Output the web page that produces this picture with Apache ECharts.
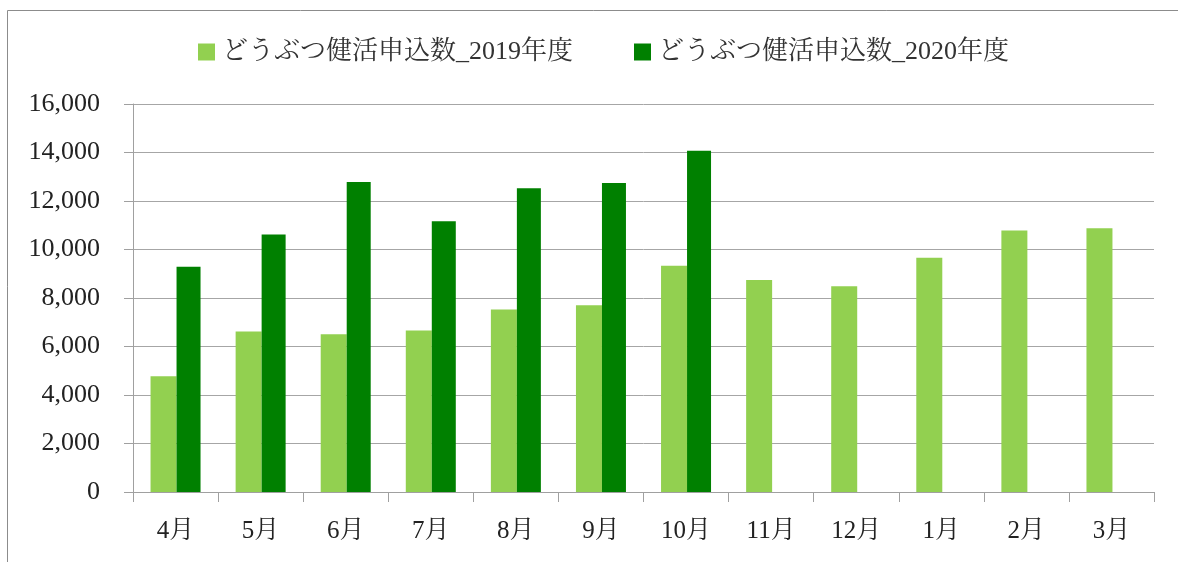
<!DOCTYPE html>
<html>
<head>
<meta charset="utf-8">
<script src="https://cdn.jsdelivr.net/npm/echarts@6/dist/echarts.min.js"></script>
<style>
  html, body { margin: 0; padding: 0; background: #fff; }
  #main { width: 1178px; height: 562px; }
</style>
</head>
<body>
<div id="main"></div>
<script>
// どうぶつ健活 申込数（月別）
var months = ['4月', '5月', '6月', '7月', '8月', '9月', '10月', '11月', '12月', '1月', '2月', '3月'];
var seriesNames = ['どうぶつ健活申込数_2019年度', 'どうぶつ健活申込数_2020年度'];
var fy2019 = [4770, 6620, 6510, 6660, 7530, 7700, 9330, 8740, 8480, 9660, 10780, 10880];
var fy2020 = [9290, 10620, 12780, 11160, 12530, 12740, 14070, null, null, null, null, null];

var fontFam = "'Liberation Serif', 'Noto Serif CJK JP', 'Noto Sans CJK JP', serif";

var myChart = echarts.init(document.getElementById('main'));

var option = {
    backgroundColor: '#fff',
    animation: false,
    textStyle: { fontFamily: fontFam, color: '#222' },
    graphic: [{
        type: 'rect',
        shape: { x: 7.5, y: 10.5, width: 1300, height: 700 },
        style: { fill: 'none', stroke: '#8c8c8c', lineWidth: 1 },
        silent: true
    }],
    legend: {
        left: 193,
        top: 34,
        itemWidth: 17,
        itemHeight: 17,
        itemGap: 61,
        icon: 'rect',
        textStyle: { fontSize: 26, fontFamily: fontFam, color: '#333', padding: [0, 0, 0, 2] },
        data: seriesNames
    },
    grid: {
        left: 133,
        right: 24,
        top: 104,
        bottom: 70
    },
    xAxis: {
        type: 'category',
        data: months,
        axisLine: { lineStyle: { color: '#a0a0a0' } },
        axisTick: { show: true, length: 10, alignWithLabel: false, lineStyle: { color: '#a0a0a0' } },
        axisLabel: { fontSize: 25, margin: 27, color: '#222', fontFamily: fontFam }
    },
    yAxis: {
        type: 'value',
        min: 0,
        max: 16000,
        interval: 2000,
        axisLine: { show: true, lineStyle: { color: '#a0a0a0' } },
        axisTick: { show: true, length: 9, lineStyle: { color: '#a0a0a0' } },
        splitLine: { lineStyle: { color: '#a6a6a6' } },
        axisLabel: {
            fontSize: 26,
            margin: 33,
            color: '#222',
            fontFamily: fontFam,
            formatter: function (v) {
                return String(v).replace(/\B(?=(\d{3})+(?!\d))/g, ',');
            }
        }
    },
    series: [
        {
            name: seriesNames[0],
            type: 'bar',
            data: fy2019,
            barWidth: 26,
            barGap: '0%',
            itemStyle: { color: '#92d050' }
        },
        {
            name: seriesNames[1],
            type: 'bar',
            data: fy2020,
            barWidth: 24,
            barGap: '0%',
            itemStyle: { color: '#008000' }
        }
    ]
};

myChart.setOption(option);
</script>
</body>
</html>
